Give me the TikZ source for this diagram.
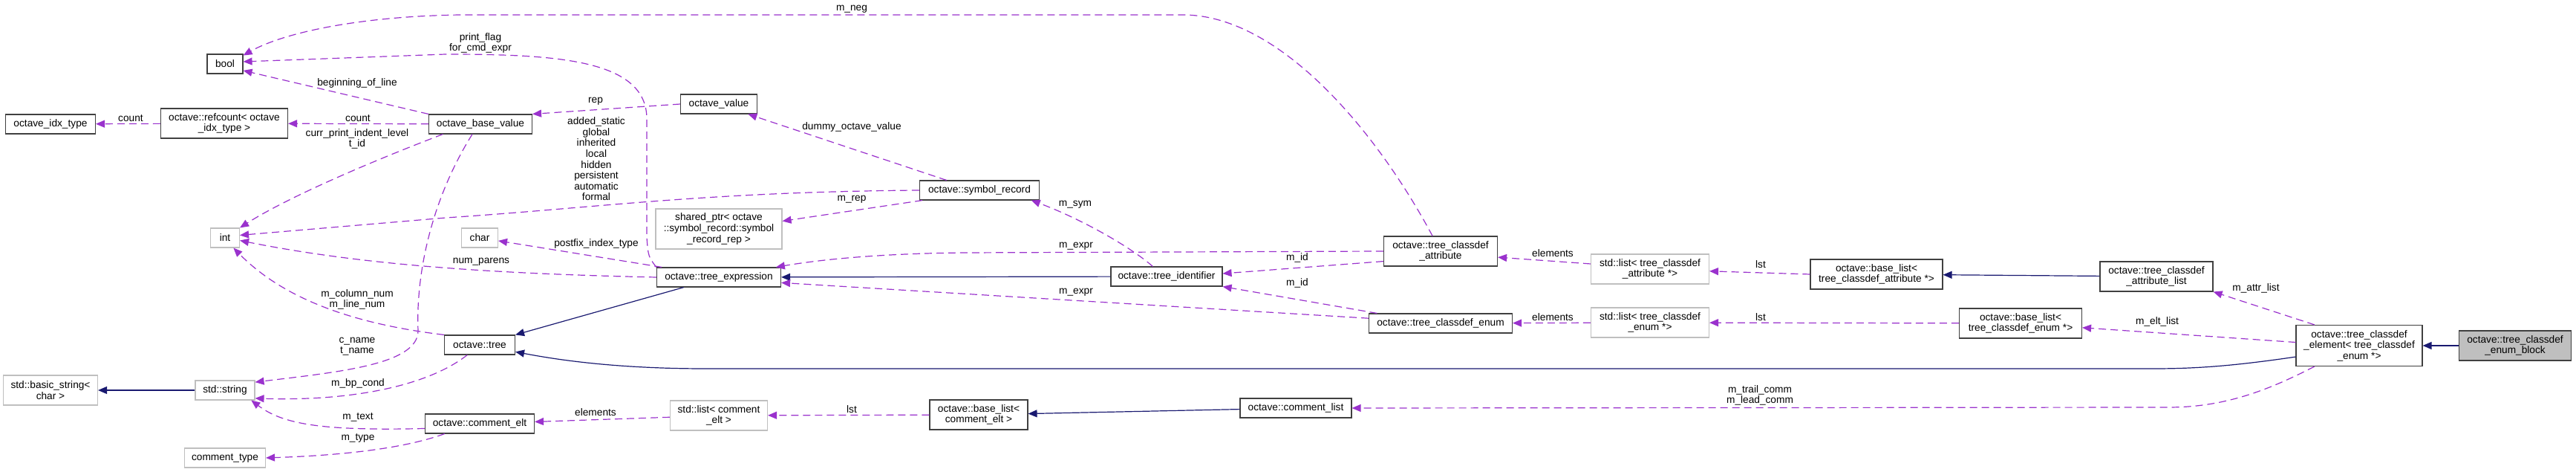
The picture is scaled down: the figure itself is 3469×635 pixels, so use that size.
\documentclass[tikz,border=0pt]{standalone}
\usepackage{fontspec}
\setmainfont{Liberation Sans}
\usetikzlibrary{arrows.meta}
\definecolor{edgepurple}{HTML}{9A32CD}
\definecolor{inhblue}{HTML}{191970}
\definecolor{extgrey}{HTML}{BFBFBF}
\definecolor{boxline}{HTML}{404040}
\newcommand{\dfont}{\fontsize{6.85}{7.3}\selectfont}

\begin{document}
\begin{tikzpicture}[x=0.5pt,y=-0.5pt,
		cls/.style={draw=boxline,line width=0.55pt,fill=white,font=\dfont,align=center,inner sep=0pt,minimum height=13pt},
		ext/.style={cls,draw=extgrey},
		two/.style={minimum height=20pt},
		mem/.style={draw=edgepurple,line width=0.6pt,dash pattern=on 5pt off 3pt,-{Triangle[length=6pt,width=5pt,fill=edgepurple]}},
		inh/.style={draw=inhblue,line width=0.6pt,-{Triangle[length=6pt,width=5pt,fill=inhblue]}},
		lbl/.style={font=\dfont,align=center,inner sep=0pt}]
		\useasboundingbox (0,0) rectangle (3469,635);
		
		% classes
		\node[cls,minimum width=60.5pt] (idxtype) at (68,167) {octave\_idx\_type};
		\node[cls,two,minimum width=85.5pt] (refcount) at (302,166) {octave::refcount< octave\\\_idx\_type >};
		\node[cls,minimum width=24pt] (bool) at (303,86) {bool};
		\node[ext,minimum width=19.5pt] (int) at (303,320) {int};
		\node[ext,two,minimum width=63.5pt] (basicstr) at (68,525) {std::basic\_string<\\char >};
		\node[ext,minimum width=40pt] (string) at (303,525) {std::string};
		\node[ext,minimum width=54.5pt] (ctype) at (303,616) {comment\_type};
		\node[cls,minimum width=69.5pt] (basevalue) at (647,167) {octave\_base\_value};
		\node[ext,minimum width=24.5pt] (char) at (646,320) {char};
		\node[cls,minimum width=47.5pt] (tree) at (646,464) {octave::tree};
		\node[cls,minimum width=73.5pt] (celt) at (646,570) {octave::comment\_elt};
		\node[cls,minimum width=51.5pt] (ovalue) at (968,140) {octave\_value};
		\node[ext,minimum width=85pt,minimum height=27pt] (sharedptr) at (968,308) {shared\_ptr< octave\\::symbol\_record::symbol\\\_record\_rep >};
		\node[cls,minimum width=83.5pt] (texpr) at (968,373) {octave::tree\_expression};
		\node[ext,two,minimum width=65.5pt] (clist) at (968,559) {std::list< comment\\\_elt >};
		\node[cls,minimum width=80.5pt] (symrec) at (1319,256) {octave::symbol\_record};
		\node[cls,two,minimum width=66pt] (blcelt) at (1318,558) {octave::base\_list<\\comment\_elt >};
		\node[cls,minimum width=75pt] (tident) at (1571,372) {octave::tree\_identifier};
		\node[cls,minimum width=75pt] (cmtlist) at (1745,549) {octave::comment\_list};
		\node[cls,two,minimum width=76.5pt] (tcattr) at (1940,338) {octave::tree\_classdef\\\_attribute};
		\node[cls,minimum width=96.5pt] (tcenum) at (1940,435) {octave::tree\_classdef\_enum};
		\node[ext,two,minimum width=79.5pt] (lstattr) at (2222,362) {std::list< tree\_classdef\\\_attribute *>};
		\node[ext,two,minimum width=79.5pt] (lstenum) at (2222,434) {std::list< tree\_classdef\\\_enum *>};
		\node[cls,two,minimum width=89pt] (blattr) at (2527,369) {octave::base\_list<\\tree\_classdef\_attribute *>};
		\node[cls,two,minimum width=82.5pt] (blenum) at (2721,435) {octave::base\_list<\\tree\_classdef\_enum *>};
		\node[cls,two,minimum width=76pt] (tcattrlist) at (2904,372) {octave::tree\_classdef\\\_attribute\_list};
		\node[cls,minimum width=85pt,minimum height=27.5pt] (tcelem) at (3177,465) {octave::tree\_classdef\\\_element< tree\_classdef\\\_enum *>};
		\node[cls,two,fill=extgrey,minimum width=75.5pt] (enumblock) at (3387,465) {octave::tree\_classdef\\\_enum\_block};
		
		% base classes
		\draw[inh] (string) -- (basicstr);
		\draw[inh] (tident) -- (texpr);
		\draw[inh] (texpr.-164) -- (tree.north east);
		\draw[inh] (tcelem.-170) .. controls (3010,492) and (2960,496) .. (2900,496) -- (950,496) .. controls (820,496) and (740,482) .. (tree.-11);
		\draw[inh] (cmtlist) -- (blcelt);
		\draw[inh] (tcattrlist) -- (blattr);
		\draw[inh] (enumblock) -- (tcelem);
		
		% members
		\draw[mem] (refcount) -- (idxtype);  % count
		\draw[mem] (basevalue) -- (refcount);  % count
		\draw[mem] (basevalue.north west) -- (bool.-20);  % beginning_of_line
		\draw[mem] (basevalue.-165) .. controls (480,225) and (380,270) .. (int.north east);
		\draw[mem] (basevalue.-129) .. controls (580,270) and (560,370) .. (563,445) .. controls (563,490) and (460,500) .. (string.15);
		\draw[mem] (ovalue.west) -- (basevalue.north east);  % rep
		\draw[mem] (symrec.163) -- (ovalue.-19);  % dummy_octave_value
		\draw[mem] (symrec.west) .. controls (950,258) and (800,280) .. (600,293) -- (int.10);
		\draw[mem] (texpr.west) .. controls (650,368) and (480,355) .. (int.-10);  % num_parens
		\draw[mem] (tree.north west) .. controls (470,435) and (380,400) .. (int.-50);
		\draw[mem] (tree.-141) .. controls (575,520) and (470,540) .. (string.-15);  % m_bp_cond
		\draw[mem] (celt.-175) .. controls (430,580) and (380,570) .. (string.-21);  % m_text
		\draw[mem] (celt.-164) .. controls (540,605) and (450,613) .. (ctype.east);  % m_type
		\draw[mem] (texpr.170) -- (char.-9);  % postfix_index_type
		\draw[mem] (texpr.171) .. controls (873,345) .. (871,320) -- (871,160) .. controls (871,80) and (750,73) .. (600,73) -- (bool.7);
		\draw[mem] (tcattr.118) .. controls (1850,170) and (1720,20) .. (1593,20) -- (620,20) .. controls (480,22) and (380,45) .. (bool.25);  % m_neg
		\draw[mem] (symrec.-170) -- (sharedptr.7);  % m_rep
		\draw[mem] (tident.144) .. controls (1520,330) and (1450,292) .. (symrec.-11);  % m_sym
		\draw[mem] (tcattr.west) -- (1300,340) .. controls (1180,341) and (1100,350) .. (texpr.10);  % m_expr
		\draw[mem] (tcattr.-170) -- (tident.3);  % m_id
		\draw[mem] (tcenum.171) -- (tident.south east);  % m_id
		\draw[mem] (tcenum.176) -- (texpr.-5);  % m_expr
		\draw[mem] (lstattr.175) -- (tcattr.-6);  % elements
		\draw[mem] (blattr.west) -- (lstattr.-2);  % lst
		\draw[mem] (tcelem.155) -- (tcattrlist.south east);  % m_attr_list
		\draw[mem] (lstenum) -- (tcenum);  % elements
		\draw[mem] (blenum) -- (lstenum);  % lst
		\draw[mem] (tcelem.177) -- (blenum.-4);  % m_elt_list
		\draw[mem] (tcelem.-155) .. controls (3060,522) and (3000,548) .. (2920,548) -- (cmtlist.east);
		\draw[mem] (blcelt) -- (clist);  % lst
		\draw[mem] (clist) -- (celt);  % elements
		
		% edge labels
		\node[lbl] (l-count1) at (176,159) {count};
		\node[lbl] (l-count2) at (482,159) {count};
		\node[lbl] (l-bol) at (481,112) {beginning\_of\_line};
		\node[lbl] (l-indent) at (481,187) {curr\_print\_indent\_level\\t\_id};
		\node[lbl] (l-neg) at (1147,12) {m\_neg};
		\node[lbl] (l-print) at (647,58) {print\_flag\\for\_cmd\_expr};
		\node[lbl] (l-rep) at (802,136) {rep};
		\node[lbl] (l-scope) at (803,214) {added\_static\\global\\inherited\\local\\hidden\\persistent\\automatic\\formal};
		\node[lbl] (l-dummy) at (1147,171) {dummy\_octave\_value};
		\node[lbl] (l-mrep) at (1147,268) {m\_rep};
		\node[lbl] (l-postfix) at (803,328) {postfix\_index\_type};
		\node[lbl] (l-parens) at (648,352) {num\_parens};
		\node[lbl] (l-colline) at (481,403) {m\_column\_num\\m\_line\_num};
		\node[lbl] (l-name) at (481,466) {c\_name\\t\_name};
		\node[lbl] (l-bp) at (482,516) {m\_bp\_cond};
		\node[lbl] (l-text) at (482,561) {m\_text};
		\node[lbl] (l-type) at (482,589) {m\_type};
		\node[lbl] (l-elem1) at (802,555) {elements};
		\node[lbl] (l-lst1) at (1147,551) {lst};
		\node[lbl] (l-sym) at (1448,275) {m\_sym};
		\node[lbl] (l-expr1) at (1449,331) {m\_expr};
		\node[lbl] (l-id1) at (1747,347) {m\_id};
		\node[lbl] (l-id2) at (1747,381) {m\_id};
		\node[lbl] (l-expr2) at (1449,393) {m\_expr};
		\node[lbl] (l-elem2) at (2091,341) {elements};
		\node[lbl] (l-lst2) at (2371,356) {lst};
		\node[lbl] (l-elem3) at (2091,427) {elements};
		\node[lbl] (l-lst3) at (2371,427) {lst};
		\node[lbl] (l-comm) at (2370,532) {m\_trail\_comm\\m\_lead\_comm};
		\node[lbl] (l-attr) at (3038,388) {m\_attr\_list};
		\node[lbl] (l-elt) at (2905,433) {m\_elt\_list};
		
	\end{tikzpicture}
\end{document}
